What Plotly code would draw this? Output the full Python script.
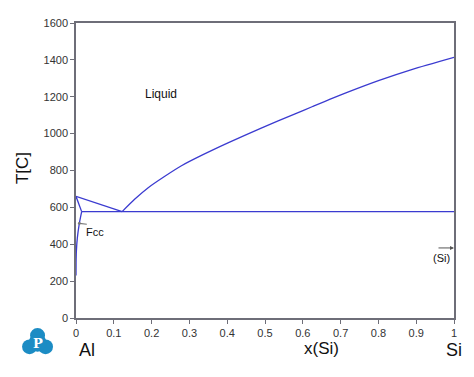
import plotly.graph_objects as go

# Liquidus, Al-rich side
liq_al_x = [0.0, 0.122]
liq_al_t = [660, 577]
# Liquidus, Si-rich side
liq_si_x = [0.122, 0.155, 0.191, 0.235, 0.279, 0.336, 0.402, 0.49, 0.578, 0.626, 0.714, 0.802, 0.89, 1.0]
liq_si_t = [577, 644, 707, 769, 826, 886, 950, 1030, 1106, 1147, 1221, 1289, 1349, 1414]
# Fcc solidus
sol_x = [0.0, 0.015]
sol_t = [660, 577]
# Eutectic line
eut_x = [0.015, 1.0]
eut_t = [577, 577]
# Fcc solvus
solv_x = [0.015, 0.0088, 0.0035, 0.001, 0.0002, 0.0]
solv_t = [577, 513, 433, 362, 300, 230]

x_ticks = [0, 0.1, 0.2, 0.3, 0.4, 0.5, 0.6, 0.7, 0.8, 0.9, 1]
x_labels = ["0", "0.1", "0.2", "0.3", "0.4", "0.5", "0.6", "0.7", "0.8", "0.9", "1"]
y_ticks = [0, 200, 400, 600, 800, 1000, 1200, 1400, 1600]

OFF = 8  # page body margin
W, H = 474 - OFF, 377 - OFF
# plot area in window pixels: x 76..454.5, y 17.3..317.7
L, T = 76 - OFF, 17.3 - OFF
R = W - (454.5 - OFF)
B = H - (317.7 - OFF)
pw, ph = W - L - R, H - T - B

def px(xp):
    return (xp - OFF - L) / pw

def py(yp):
    return (H - B - (yp - OFF)) / ph

LINE = "#3b3bd0"
FONT = "Liberation Sans, Arial, sans-serif"

fig = go.Figure()
for xs, ts, sm in [(liq_al_x, liq_al_t, False), (liq_si_x, liq_si_t, True),
                   (sol_x, sol_t, False), (eut_x, eut_t, False), (solv_x, solv_t, True)]:
    line = dict(color=LINE, width=1.3)
    if sm:
        line.update(shape="spline", smoothing=0.6)
    fig.add_trace(go.Scatter(x=xs, y=ts, mode="lines", line=line,
                             hoverinfo="skip", showlegend=False))

axis_common = dict(showline=True, linecolor="#6e6e78", linewidth=1.5, mirror=True,
                   ticks="outside", ticklen=4, tickcolor="#6e6e78", showgrid=False,
                   zeroline=False, tickfont=dict(family=FONT, size=11, color="#333"))
fig.update_xaxes(range=[0, 1], tickvals=x_ticks, ticktext=x_labels, **axis_common)
fig.update_yaxes(range=[0, 1600], tickvals=y_ticks, **axis_common)

def label(xp, yp, text, size, **kw):
    d = dict(x=px(xp), y=py(yp), xref="paper", yref="paper", text=text,
             showarrow=False, xanchor="center", yanchor="middle",
             font=dict(family=kw.pop("family", FONT), size=size, color=kw.pop("color", "#111")))
    d.update(kw)
    return d

ann = []
ann.append(label(161, 90, "Liquid", 12))
ann.append(dict(x=0.0088, y=513, xref="x", yref="y", text="", showarrow=True,
                ax=9, ay=1, arrowhead=6, arrowsize=0.6, arrowwidth=1.2,
                arrowcolor="#777"))
ann.append(label(95, 230, "Fcc", 11))
ann.append(dict(x=1, y=380, xref="x", yref="y", text="", showarrow=True,
                ax=-17, ay=0, arrowhead=2, arrowsize=0.8, arrowwidth=1,
                arrowcolor="#555"))
ann.append(label(442, 257, "(Si)", 11))
ann.append(label(22, 165, "T[C]", 17, textangle=-90))
ann.append(label(322, 349, "x(Si)", 17))
ann.append(label(87, 350, "Al", 18))
ann.append(label(454, 350, "Si", 18))
ann.append(label(37.5, 343.5, "<b>P</b>", 13, family="DejaVu Serif, serif", color="white"))

LOGO = "#1c8cc4"
shapes = []
for cx, cy, r in [(37.5, 335.5, 7.5), (29.5, 347, 7.5), (45.5, 347, 7.5), (37.5, 343, 9)]:
    shapes.append(dict(type="circle", xref="paper", yref="paper",
                       x0=px(cx - r), x1=px(cx + r), y0=py(cy + r), y1=py(cy - r),
                       fillcolor=LOGO, line=dict(width=0), layer="below"))

fig.update_layout(width=W, height=H, margin=dict(l=L, r=R, t=T, b=B),
                  plot_bgcolor="white", paper_bgcolor="white",
                  annotations=ann, shapes=shapes)
fig.write_html("out.html")
